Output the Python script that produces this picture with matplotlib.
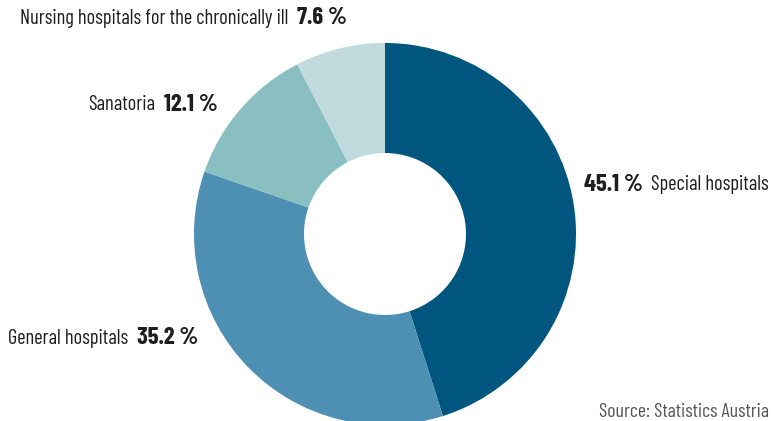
import matplotlib
matplotlib.use("Agg")
import matplotlib.pyplot as plt
from matplotlib import font_manager as fm
import glob

categories = ["Special hospitals", "General hospitals", "Sanatoria", "Nursing hospitals for the chronically ill"]
values = [45.1, 35.2, 12.1, 7.6]
value_labels = ["45.1 %", "35.2 %", "12.1 %", "7.6 %"]
colors = ["#00567E", "#4D90B4", "#8ABFC1", "#C0DADE"]

# font: condensed sans
reg = glob.glob("/usr/share/fonts/**/BarlowCondensed-Regular.ttf", recursive=True)
bld = glob.glob("/usr/share/fonts/**/BarlowCondensed-Bold.ttf", recursive=True)
if reg and bld:
    fp_reg = fm.FontProperties(fname=reg[0])
    fp_bold = fm.FontProperties(fname=bld[0])
else:
    fp_reg = fm.FontProperties(family="DejaVu Sans", stretch="condensed")
    fp_bold = fm.FontProperties(family="DejaVu Sans", stretch="condensed", weight="bold")

W, H = 771, 421
fig = plt.figure(figsize=(W / 100, H / 100), dpi=100)
cx, cy, R = 385, 234, 191
ax = fig.add_axes([(cx - R) / W, (H - cy - R) / H, 2 * R / W, 2 * R / H])
ax.pie(values, colors=colors, startangle=90, counterclock=False,
       wedgeprops=dict(width=(R - 81) / R, linewidth=0), radius=1)
ax.set_xlim(-1, 1)
ax.set_ylim(-1, 1)
ax.set_aspect("equal")
ax.axis("off")

renderer = fig.canvas.get_renderer()
# size so that the longest label spans its width in the reference (~267 px)
probe = fig.text(0, 0, categories[3], fontproperties=fp_reg, fontsize=10)
w10 = probe.get_window_extent(renderer).width
probe.remove()
fs = 10 * 267 / w10
tc = "#1E1E1E"
bscale = 1.2

def fx(px):
    return px / W

def fy(py):
    return 1 - py / H

def mk(fp, size):
    p = fp.copy()
    p.set_size(size)
    return p

def label_pair(x, y, first, second, first_bold, gap=9, right=False):
    p1 = mk(fp_bold if first_bold else fp_reg, fs * (bscale if first_bold else 1))
    p2 = mk(fp_reg if first_bold else fp_bold, fs * (1 if first_bold else bscale))
    if not right:
        t1 = fig.text(fx(x), fy(y), first, fontproperties=p1, color=tc, va="center", ha="left")
        bb = t1.get_window_extent(renderer)
        fig.text((bb.x1 + gap) / W, fy(y), second, fontproperties=p2, color=tc, va="center", ha="left")
    else:
        t2 = fig.text(fx(x), fy(y), second, fontproperties=p2, color=tc, va="center", ha="right")
        bb = t2.get_window_extent(renderer)
        fig.text((bb.x0 - gap) / W, fy(y), first, fontproperties=p1, color=tc, va="center", ha="right")

label_pair(20, 18, categories[3], value_labels[3], False)
label_pair(88, 105, categories[2], value_labels[2], False)
label_pair(769, 185, value_labels[0], categories[0], True, right=True)
label_pair(8, 338, categories[1], value_labels[1], False)

fig.text(fx(769), fy(412), "Source: Statistics Austria", fontproperties=mk(fp_reg, fs * 0.97),
         color="#555555", va="center", ha="right")

fig.savefig("out.png", dpi=100)
